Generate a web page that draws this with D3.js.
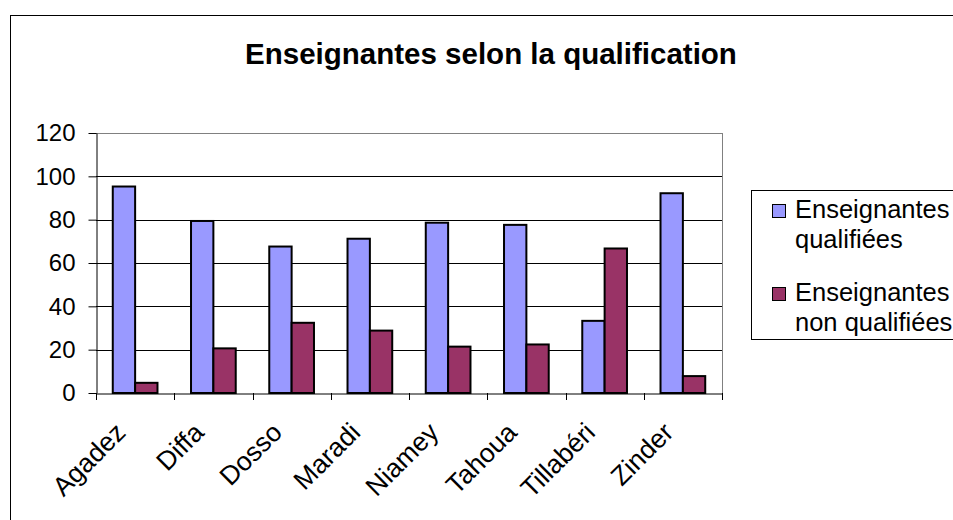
<html>
<head>
<script src="https://d3js.org/d3.v7.min.js"></script>
<style>
  body { margin: 0; background: #fff; }
  text { font-family: Arial, "Liberation Sans", sans-serif; }
</style>
</head>
<body>
<script>
// data (percent)
let regions = ["Agadez", "Diffa", "Dosso", "Maradi", "Niamey", "Tahoua", "Tillabéri", "Zinder"];
let qualifiees = [95.3, 79.4, 67.6, 71.2, 78.6, 77.6, 33.3, 92.2];
let nonQualifiees = [4.7, 20.6, 32.4, 28.8, 21.4, 22.4, 66.7, 7.8];
let seriesNames = ["Enseignantes qualifiées", "Enseignantes non qualifiées"];
let seriesColors = ["#9999ff", "#993366"];
let yTicks = [0, 20, 40, 60, 80, 100, 120];

let W = 953, H = 520;
let plotL = 96, plotR = 722, plotT = 133, plotB = 393;

let svg = d3.select("body").append("svg")
  .attr("width", W)
  .attr("height", H);

// outer chart frame
svg.append("rect")
  .attr("x", 10.5).attr("y", 15.5)
  .attr("width", 960).attr("height", 520)
  .attr("fill", "#fff").attr("stroke", "#000").attr("stroke-width", 1);

svg.append("text")
  .attr("x", 491).attr("y", 64)
  .attr("text-anchor", "middle")
  .attr("font-size", "29.5px")
  .attr("font-weight", "bold")
  .text("Enseignantes selon la qualification");

let x = d3.scaleBand().domain(regions).range([plotL, plotR]).padding(0);
let xs = d3.scaleBand().domain([0, 1]).range([0, x.bandwidth()]).paddingInner(0).paddingOuter(0.75);
let y = d3.scaleLinear().domain([0, 120]).range([plotB, plotT]);

// gridlines
svg.append("g")
  .selectAll("line")
  .data(yTicks.filter(d => d > 0))
  .join("line")
  .attr("x1", plotL).attr("x2", plotR)
  .attr("y1", d => Math.round(y(d)) + 0.5).attr("y2", d => Math.round(y(d)) + 0.5)
  .attr("stroke", d => d == 120 ? "#808080" : "#000")
  .attr("stroke-width", 1);

// right border of plot
svg.append("line")
  .attr("x1", plotR + 0.5).attr("x2", plotR + 0.5)
  .attr("y1", plotT).attr("y2", plotB)
  .attr("stroke", "#808080");

let data = regions.map((r, i) => ({ region: r, values: [qualifiees[i], nonQualifiees[i]] }));

let groups = svg.append("g")
  .selectAll("g")
  .data(data)
  .join("g")
  .attr("transform", d => `translate(${x(d.region)},0)`);

groups.selectAll("rect")
  .data(d => d.values.map((v, k) => ({ k: k, v: v })))
  .join("rect")
  .attr("x", d => xs(d.k))
  .attr("y", d => y(d.v))
  .attr("width", xs.bandwidth())
  .attr("height", d => y(0) - y(d.v))
  .attr("fill", d => seriesColors[d.k])
  .attr("stroke", "#000")
  .attr("stroke-width", 2);

// y axis
let yAxis = svg.append("g")
  .attr("transform", `translate(${plotL + 0.5},0)`)
  .call(d3.axisLeft(y).tickValues(yTicks).tickSize(8).tickPadding(13).tickSizeOuter(0));
yAxis.select(".domain").attr("stroke", "#000");
yAxis.selectAll("text").attr("font-size", "24px").attr("font-family", "Arial, 'Liberation Sans', sans-serif").attr("fill", "#000");

// x axis
let xAxis = svg.append("g")
  .attr("transform", `translate(0,${plotB + 0.5})`)
  .call(d3.axisBottom(x).tickSize(0).tickFormat(""));
xAxis.select(".domain").attr("stroke", "#000");
xAxis.selectAll(".tick").remove();

// category dividers (Excel style ticks between categories)
svg.append("g")
  .selectAll("line")
  .data(regions.concat(["end"]))
  .join("line")
  .attr("x1", (d, i) => Math.round(plotL + i * x.step()) + 0.5)
  .attr("x2", (d, i) => Math.round(plotL + i * x.step()) + 0.5)
  .attr("y1", plotB).attr("y2", plotB + 7)
  .attr("stroke", "#000");

svg.append("g")
  .selectAll("text")
  .data(regions)
  .join("text")
  .attr("text-anchor", "end")
  .attr("font-size", "26.5px")
  .attr("transform", d => `translate(${x(d) + x.bandwidth() / 2 - 8},${plotB + 41}) rotate(-45)`)
  .text(d => d);

// legend
let lg = svg.append("g");
lg.append("rect")
  .attr("x", 751.5).attr("y", 190.5)
  .attr("width", 260).attr("height", 149)
  .attr("fill", "#fff").attr("stroke", "#000");

let legendLines = [["Enseignantes", "qualifiées"], ["Enseignantes", "non qualifiées"]];
let legendY = d3.scaleOrdinal().domain([0, 1]).range([204, 287]);

seriesNames.forEach((name, k) => {
  lg.append("rect")
    .attr("x", 772.5).attr("y", legendY(k) + 0.5)
    .attr("width", 13).attr("height", 13)
    .attr("fill", seriesColors[k]).attr("stroke", "#000");
  legendLines[k].forEach((t, j) => {
    lg.append("text")
      .attr("x", 795)
      .attr("y", legendY(k) + 14 + j * 30)
      .attr("font-size", "25.5px")
      .text(t);
  });
});
</script>
</body>
</html>
